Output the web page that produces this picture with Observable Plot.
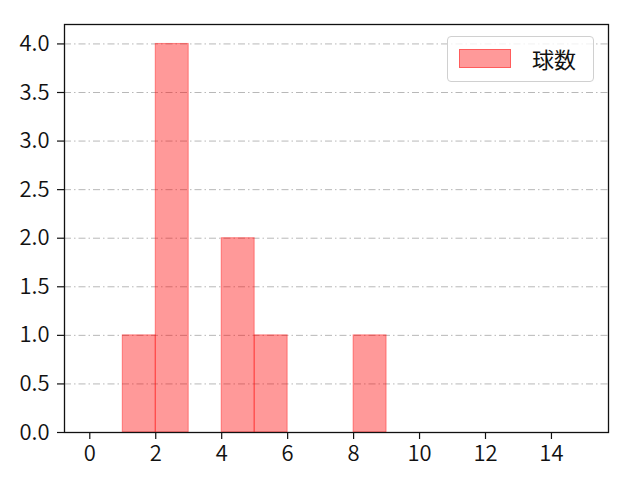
<!DOCTYPE html>
<html><head><meta charset="utf-8">
<script src="https://cdn.jsdelivr.net/npm/d3@7"></script>
<script src="https://cdn.jsdelivr.net/npm/@observablehq/plot@0.6"></script>
<style>
body{margin:0;background:#fff;font-family:"Noto Sans CJK JP","DejaVu Sans",sans-serif;}
#wrap{position:relative;width:640px;height:480px;}
#legend{position:absolute;left:447px;top:36px;width:147px;height:46px;border:1px solid #d0d0d0;border-radius:4px;background:rgba(255,255,255,0.8);box-sizing:border-box;}
#legend .patch{position:absolute;left:11px;top:12px;width:52px;height:19px;background:rgba(255,0,0,0.4);border:1px solid rgba(255,0,0,0.4);box-sizing:border-box;}
#legend .lab{position:absolute;left:84px;top:6px;font-size:22px;line-height:30px;color:#111;}
</style></head>
<body><div id="wrap"><div id="legend"><div class="patch"></div><div class="lab">球数</div></div></div>
<script>
const binStart = [1, 2, 4, 5, 8];
const binWidth = 1;
const counts = [1, 4, 2, 1, 1];
const xTicks = [0, 2, 4, 6, 8, 10, 12, 14];
const yTicks = [0, 0.5, 1.0, 1.5, 2.0, 2.5, 3.0, 3.5, 4.0];
const seriesName = "球数";

const data = binStart.map((s, i) => ({x1: s, x2: s + binWidth, y: counts[i]}));

const FONT = '"Noto Sans CJK JP","DejaVu Sans",sans-serif';
const FS = 22;
const chart = Plot.plot({
  width: 640, height: 480,
  marginLeft: 64, marginRight: 32, marginTop: 24, marginBottom: 48,
  style: {fontFamily: FONT, fontSize: FS + "px", color: "#111", background: "#fff"},
  x: {domain: [-0.767, 15.73], label: null},
  y: {domain: [0, 4.2], label: null},
  marks: [
    Plot.ruleY(yTicks, {stroke: "#b0b0b0", strokeWidth: 0.9, strokeDasharray: "7,3,1.5,3"}),
    Plot.rectY(data, {x1: "x1", x2: "x2", y: "y", fill: "red", fillOpacity: 0.4, stroke: "red", strokeOpacity: 0.4, strokeWidth: 1}),
    Plot.frame({stroke: "#111", strokeWidth: 1.3}),
    Plot.axisX({ticks: xTicks, tickFormat: d => String(d), tickSize: 7, tickPadding: 6, stroke: "#111", strokeWidth: 1.2}),
    Plot.axisY({ticks: yTicks, tickFormat: d3.format(".1f"), tickSize: 7, tickPadding: 8, stroke: "#111", strokeWidth: 1.2})
  ]
});
d3.select(chart).selectAll("text").attr("font-size", FS).style("font-size", FS + "px").style("font-family", FONT).style("font-weight", 350);
document.getElementById("wrap").prepend(chart);
chart.style.position = "absolute"; chart.style.left = "0"; chart.style.top = "0";
document.getElementById("legend").style.zIndex = 2;
</script>
</body></html>
